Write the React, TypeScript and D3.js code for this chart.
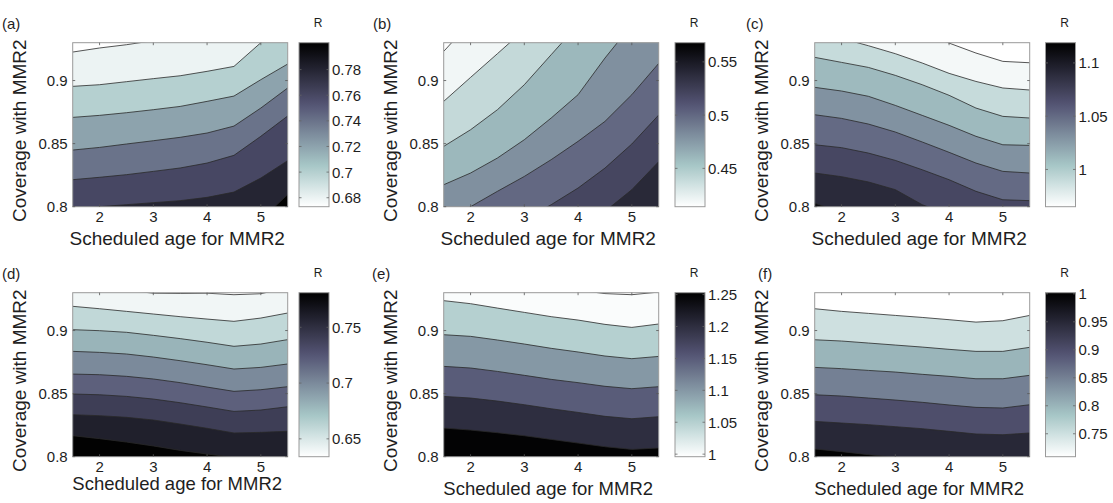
import React from 'react';
import * as d3 from 'd3';

// ---------- shared axis data ----------
const ages = [1.5, 2, 2.5, 3, 3.5, 4, 4.5, 5, 5.5];
const ageTicks = [2, 3, 4, 5];
const coverageTicks = [0.8, 0.85, 0.9];
const ageExtent: [number, number] = [1.5, 5.5];
const coverageExtent: [number, number] = [0.8, 0.93];
const panelTags = ['(a)', '(b)', '(c)', '(d)', '(e)', '(f)'];
const xTitle = 'Scheduled age for MMR2';
const yTitle = 'Coverage with MMR2';
const cbTitle = 'R';

// ---------- panel (a) ----------
const rangeA: [number, number] = [0.673, 0.801];
const levelsA = [0.68, 0.7, 0.72, 0.74, 0.76, 0.78, 0.8];
const cbTicksA = [0.68, 0.7, 0.72, 0.74, 0.76, 0.78];
const contoursA = [
  [0.9226, 0.9258, 0.9284, 0.9316, 0.9337, 0.936, 0.938, 0.945, 0.955],
  [0.8954, 0.8967, 0.8991, 0.9015, 0.9038, 0.9073, 0.9112, 0.93, 0.9485],
  [0.8708, 0.8724, 0.8745, 0.8769, 0.8795, 0.8835, 0.8877, 0.9007, 0.9131],
  [0.8449, 0.847, 0.8497, 0.8523, 0.855, 0.8584, 0.8639, 0.8782, 0.8941],
  [0.8214, 0.8233, 0.8254, 0.828, 0.8307, 0.8346, 0.8407, 0.8558, 0.8719],
  [0.7984, 0.8, 0.8016, 0.8032, 0.8048, 0.8074, 0.8116, 0.8227, 0.8365],
  [0.76, 0.765, 0.77, 0.775, 0.78, 0.785, 0.787, 0.7896, 0.8096],
];

// ---------- panel (b) ----------
const rangeB: [number, number] = [0.414, 0.568];
const levelsB = [0.42, 0.44, 0.46, 0.48, 0.5, 0.52, 0.54];
const cbTicksB = [0.45, 0.5, 0.55];
const contoursB = [
  [0.9231, 0.9464, 0.97, 0.995, 1.02, 1.045, 1.07, 1.095, 1.12],
  [0.8835, 0.9025, 0.9213, 0.9403, 0.959, 0.978, 0.997, 1.016, 1.035],
  [0.8478, 0.861, 0.8769, 0.8967, 0.9205, 0.9443, 0.968, 0.992, 1.016],
  [0.8174, 0.8267, 0.8386, 0.8531, 0.8703, 0.8888, 0.9178, 0.9443, 0.97],
  [0.7897, 0.8, 0.8122, 0.824, 0.8373, 0.8518, 0.8676, 0.8888, 0.9136],
  [0.7646, 0.7725, 0.7804, 0.7897, 0.8016, 0.8148, 0.8306, 0.8497, 0.8727],
  [0.73, 0.74, 0.75, 0.76, 0.77, 0.7818, 0.7963, 0.8135, 0.8357],
];

// ---------- panel (c) ----------
const rangeC: [number, number] = [0.965, 1.119];
const levelsC = [0.97, 0.99, 1.01, 1.03, 1.05, 1.07, 1.09, 1.11];
const cbTicksC = [1, 1.05, 1.1];
const contoursC = [
  [0.9707, 0.9625, 0.9543, 0.9461, 0.9379, 0.9297, 0.9218, 0.9152, 0.9141],
  [0.9392, 0.9334, 0.9276, 0.9213, 0.9139, 0.9057, 0.8993, 0.8941, 0.8925],
  [0.9184, 0.9144, 0.9104, 0.9041, 0.8967, 0.8883, 0.8782, 0.8716, 0.8703],
  [0.8946, 0.8917, 0.8875, 0.8803, 0.8724, 0.8645, 0.8558, 0.8491, 0.8486],
  [0.8729, 0.87, 0.8655, 0.8592, 0.8513, 0.8431, 0.8346, 0.828, 0.8267],
  [0.8491, 0.8468, 0.8425, 0.8367, 0.8293, 0.8214, 0.8122, 0.8055, 0.8048],
  [0.8267, 0.8238, 0.8196, 0.8135, 0.8016, 0.7937, 0.786, 0.78, 0.775],
  [0.8029, 0.795, 0.79, 0.785, 0.78, 0.775, 0.77, 0.765, 0.76],
];

// ---------- panel (d) ----------
const rangeD: [number, number] = [0.634, 0.781];
const levelsD = [0.64, 0.66, 0.68, 0.7, 0.72, 0.74, 0.76, 0.78];
const cbTicksD = [0.65, 0.7, 0.75];
const contoursD = [
  [0.936, 0.934, 0.932, 0.9296, 0.9294, 0.9296, 0.9284, 0.9292, 0.934],
  [0.9192, 0.9173, 0.9152, 0.9131, 0.911, 0.9091, 0.9073, 0.9099, 0.9139],
  [0.9007, 0.8999, 0.8986, 0.8962, 0.8936, 0.8907, 0.8875, 0.8893, 0.8928],
  [0.8835, 0.8827, 0.8814, 0.879, 0.8761, 0.8729, 0.8695, 0.8708, 0.8735],
  [0.8655, 0.865, 0.8637, 0.8616, 0.8587, 0.8552, 0.8518, 0.8531, 0.8555],
  [0.8497, 0.8491, 0.8478, 0.8457, 0.8428, 0.8394, 0.8359, 0.837, 0.8396],
  [0.8333, 0.8325, 0.8312, 0.8291, 0.8259, 0.8225, 0.8188, 0.8193, 0.8201],
  [0.8166, 0.8143, 0.8116, 0.8085, 0.805, 0.8021, 0.7995, 0.7984, 0.7976],
];

// ---------- panel (e) ----------
const rangeE: [number, number] = [0.996, 1.253];
const levelsE = [1.0, 1.05, 1.1, 1.15, 1.2, 1.25];
const cbTicksE = [1, 1.05, 1.1, 1.15, 1.2, 1.25];
const contoursE = [
  [0.94, 0.939, 0.938, 0.936, 0.934, 0.932, 0.9293, 0.9284, 0.9305],
  [0.9237, 0.9213, 0.9178, 0.9144, 0.911, 0.9083, 0.9049, 0.9025, 0.9052],
  [0.8967, 0.8954, 0.8925, 0.8893, 0.8859, 0.883, 0.8798, 0.8777, 0.8795],
  [0.8716, 0.8703, 0.8676, 0.8645, 0.8613, 0.8587, 0.8558, 0.8539, 0.8555],
  [0.8478, 0.8465, 0.8441, 0.8412, 0.838, 0.8351, 0.832, 0.8301, 0.8317],
  [0.8227, 0.8211, 0.819, 0.8166, 0.8137, 0.8108, 0.8079, 0.8058, 0.8069],
];

// ---------- panel (f) ----------
const rangeF: [number, number] = [0.709, 1.002];
const levelsF = [0.75, 0.8, 0.85, 0.9, 0.95, 1.0];
const cbTicksF = [0.75, 0.8, 0.85, 0.9, 0.95, 1];
const contoursF = [
  [0.9173, 0.9152, 0.9136, 0.912, 0.9104, 0.9086, 0.9067, 0.9078, 0.912],
  [0.8927, 0.8917, 0.8901, 0.8885, 0.8869, 0.8851, 0.8835, 0.8835, 0.8867],
  [0.8708, 0.8698, 0.8684, 0.8671, 0.8653, 0.8637, 0.8618, 0.8618, 0.8645],
  [0.8491, 0.8481, 0.8465, 0.8449, 0.8431, 0.841, 0.8391, 0.8386, 0.8412],
  [0.828, 0.8267, 0.8254, 0.8238, 0.8222, 0.8201, 0.818, 0.8174, 0.8188],
  [0.8061, 0.804, 0.8016, 0.7995, 0.797, 0.795, 0.793, 0.792, 0.792],
];

const panels = [
  { range: rangeA, levels: levelsA, cbTicks: cbTicksA, contours: contoursA },
  { range: rangeB, levels: levelsB, cbTicks: cbTicksB, contours: contoursB },
  { range: rangeC, levels: levelsC, cbTicks: cbTicksC, contours: contoursC },
  { range: rangeD, levels: levelsD, cbTicks: cbTicksD, contours: contoursD },
  { range: rangeE, levels: levelsE, cbTicks: cbTicksE, contours: contoursE },
  { range: rangeF, levels: levelsF, cbTicks: cbTicksF, contours: contoursF },
];

// ---------- layout ----------
const W = 1113;
const H = 503;
const COL_PLOT_X = [72.7, 443.7, 814.7];
const COL_CB_X = [299, 675, 1045.5];
const ROW_PLOT_Y = [42.7, 292.7];
const PLOT_W = 215;
const PLOT_H = 164;
const CB_W = 30;
const TAG_X = [2, 373, 746, 2, 372, 758];
const XTITLE_Y = [245, 245, 245, 490, 495, 495];
const FONT = '"Liberation Sans", Arial, Helvetica, sans-serif';
const TEXT = '#1e1e1e';

// MATLAB "bone" colormap
function bone(s: number): string {
  const c = (v: number) => Math.max(0, Math.min(1, v));
  const hr = c(s / 0.375);
  const hg = c((s - 0.375) / 0.375);
  const hb = c((s - 0.75) / 0.25);
  const r = (7 * s + hb) / 8;
  const g = (7 * s + hg) / 8;
  const b = (7 * s + hr) / 8;
  return d3.rgb(r * 255, g * 255, b * 255).formatHex();
}
// flipped bone: low values white, high values black
function cmap(v: number, range: [number, number]): string {
  const t = Math.max(0, Math.min(1, (v - range[0]) / (range[1] - range[0])));
  return bone(1 - t);
}
const fmt = (v: number) => String(+v.toFixed(3));

function Panel({ idx }: { idx: number }) {
  const p = panels[idx];
  const col = idx % 3;
  const row = Math.floor(idx / 3);
  const x0 = COL_PLOT_X[col];
  const y0 = ROW_PLOT_Y[row];
  const cbx = COL_CB_X[col];
  const xs = d3.scaleLinear().domain(ageExtent).range([x0, x0 + PLOT_W]);
  const ys = d3.scaleLinear().domain(coverageExtent).range([y0 + PLOT_H, y0]);
  const cs = d3.scaleLinear().domain(p.range).range([y0 + PLOT_H, y0]);

  const area = d3
    .area<number>()
    .x((_, j) => xs(ages[j]))
    .y0(ys(0.6))
    .y1((d) => ys(d));
  const line = d3
    .line<number>()
    .x((_, j) => xs(ages[j]))
    .y((d) => ys(d));

  const bandColor = (k: number) =>
    cmap(k === 0 ? p.range[0] : p.levels[k - 1], p.range);

  const clipId = `clip-${idx}`;
  const tk = 2.5;
  return (
    <g>
      <defs>
        <clipPath id={clipId}>
          <rect x={x0} y={y0} width={PLOT_W} height={PLOT_H} />
        </clipPath>
      </defs>
      <g clipPath={`url(#${clipId})`}>
        <rect x={x0} y={y0} width={PLOT_W} height={PLOT_H} fill={bandColor(0)} />
        {p.contours.map((c, k) => (
          <path key={'a' + k} d={area(c) || ''} fill={bandColor(k + 1)} stroke="none" />
        ))}
        {p.contours.map((c, k) => (
          <path key={'l' + k} d={line(c) || ''} fill="none" stroke="#2a2a2a" strokeWidth={0.8} />
        ))}
      </g>
      <rect x={x0} y={y0} width={PLOT_W} height={PLOT_H} fill="none" stroke="#9a9a9a" strokeWidth={1} />
      {ageTicks.map((t) => (
        <g key={'xt' + t}>
          <line x1={xs(t)} x2={xs(t)} y1={y0 + PLOT_H} y2={y0 + PLOT_H - tk} stroke="#555" strokeWidth={0.8} />
          <line x1={xs(t)} x2={xs(t)} y1={y0} y2={y0 + tk} stroke="#555" strokeWidth={0.8} />
          <text x={xs(t)} y={y0 + PLOT_H + 15.5} textAnchor="middle" fontSize={15} fill={TEXT} fontFamily={FONT}>
            {fmt(t)}
          </text>
        </g>
      ))}
      {coverageTicks.map((t) => (
        <g key={'yt' + t}>
          <line x1={x0} x2={x0 + tk} y1={ys(t)} y2={ys(t)} stroke="#555" strokeWidth={0.8} />
          <line x1={x0 + PLOT_W} x2={x0 + PLOT_W - tk} y1={ys(t)} y2={ys(t)} stroke="#555" strokeWidth={0.8} />
          <text x={x0 - 5} y={ys(t)} dy="0.36em" textAnchor="end" fontSize={15} fill={TEXT} fontFamily={FONT}>
            {fmt(t)}
          </text>
        </g>
      ))}
      {/* colorbar */}
      <rect x={cbx} y={y0} width={CB_W} height={PLOT_H} fill="url(#bonegrad)" stroke="#9a9a9a" strokeWidth={1} />
      {p.cbTicks.map((t) => (
        <g key={'ct' + t}>
          <line x1={cbx} x2={cbx + tk} y1={cs(t)} y2={cs(t)} stroke="#666" strokeWidth={0.8} />
          <line x1={cbx + CB_W} x2={cbx + CB_W - tk} y1={cs(t)} y2={cs(t)} stroke="#666" strokeWidth={0.8} />
          <text x={cbx + CB_W + 3} y={cs(t)} dy="0.36em" textAnchor="start" fontSize={15} fill={TEXT} fontFamily={FONT}>
            {fmt(t)}
          </text>
        </g>
      ))}
      <text x={cbx + CB_W / 2 + 4} y={y0 - 15.5} textAnchor="middle" fontSize={12} fill={TEXT} fontFamily={FONT}>
        {cbTitle}
      </text>
      <text x={TAG_X[idx]} y={y0 - 13.7} fontSize={15} fill={TEXT} fontFamily={FONT}>
        {panelTags[idx]}
      </text>
      <text
        transform={`translate(${x0 - 46.7},${y0 + PLOT_H / 2 + 6})rotate(-90)`}
        textAnchor="middle"
        fontSize={19}
        fill={TEXT}
        fontFamily={FONT}
      >
        {yTitle}
      </text>
      <text
        x={x0 + PLOT_W / 2 - 3}
        y={XTITLE_Y[idx]}
        textAnchor="middle"
        fontSize={row === 0 ? 19 : 18.5}
        fill={TEXT}
        fontFamily={FONT}
      >
        {xTitle}
      </text>
    </g>
  );
}

export default function App() {
  const stops = d3.range(0, 1.0001, 0.05);
  return (
    <svg
      width={W}
      height={H}
      viewBox={`0 0 ${W} ${H}`}
      style={{ position: 'absolute', left: 0, top: 0, display: 'block', background: '#fff' }}
    >
      <defs>
        <linearGradient id="bonegrad" x1="0" y1="1" x2="0" y2="0">
          {stops.map((s) => (
            <stop key={s} offset={s} stopColor={bone(1 - s)} />
          ))}
        </linearGradient>
      </defs>
      <rect x={0} y={0} width={W} height={H} fill="#fff" />
      {panels.map((_, i) => (
        <Panel key={i} idx={i} />
      ))}
    </svg>
  );
}
